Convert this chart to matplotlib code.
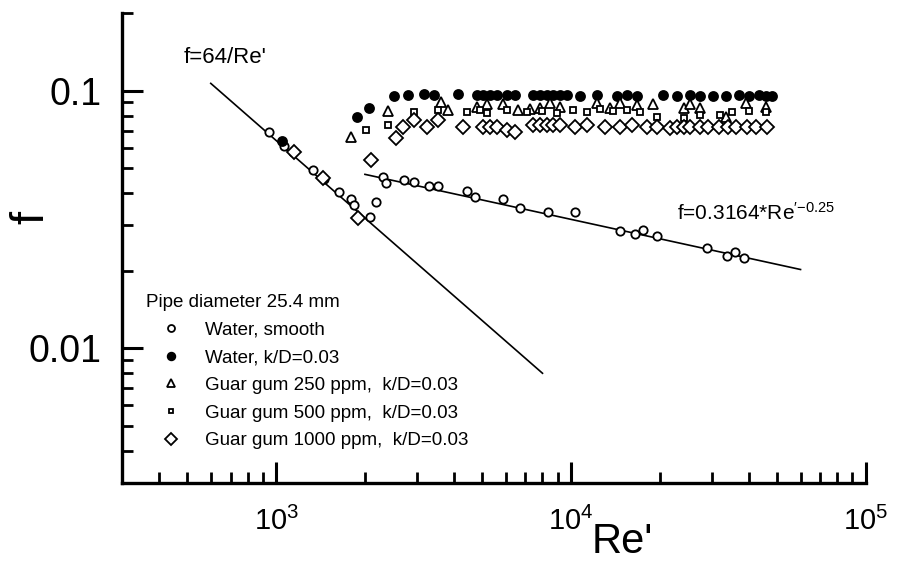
import matplotlib
matplotlib.use("Agg")
import matplotlib.pyplot as plt
from matplotlib.lines import Line2D
from matplotlib.ticker import LogLocator, NullFormatter

plt.rcParams["font.family"] = "Liberation Sans"
plt.rcParams["mathtext.default"] = "regular"

# ---- data ----
# Water, smooth pipe (laminar + Blasius region)
re_smooth = [947, 1064, 1141, 1334, 1453, 1632, 1792, 1834, 2078, 2178,
             2299, 2353, 2706, 2924, 3288, 3525, 4453, 4740, 5890, 6725,
             8360, 10315, 14640, 16450, 17500, 19500, 29000, 33900, 36100, 38700]
f_smooth = [0.0688, 0.0607, 0.0580, 0.0494, 0.0452, 0.0403, 0.0378, 0.0361, 0.0322, 0.0368,
            0.0464, 0.0436, 0.0448, 0.0440, 0.0428, 0.0428, 0.0406, 0.0388, 0.0378, 0.0349,
            0.0337, 0.0337, 0.0284, 0.0277, 0.0287, 0.0272, 0.0246, 0.0229, 0.0236, 0.0225]

# Water, k/D = 0.03
re_rough = [1048, 1877, 2062, 2504, 2792, 3162, 3419, 4120, 4813, 5044,
            5325, 5623, 6078, 6469, 7440, 7858, 8297, 8694, 9180, 9694,
            10725, 12240, 14300, 15460, 16710, 20460, 22810, 25230, 27280, 30180,
            33650, 37240, 40250, 43500, 45940, 48130]
f_rough = [0.0640, 0.0793, 0.0859, 0.0956, 0.0965, 0.0970, 0.0965, 0.0970, 0.0965, 0.0960,
           0.0965, 0.0965, 0.0960, 0.0965, 0.0960, 0.0965, 0.0960, 0.0960, 0.0965, 0.0960,
           0.0956, 0.0960, 0.0956, 0.0960, 0.0956, 0.0960, 0.0956, 0.0960, 0.0956, 0.0952,
           0.0956, 0.0965, 0.0956, 0.0960, 0.0956, 0.0956]

# Guar gum 250 ppm
re_g250 = [1790, 2390, 3610, 3811, 4813, 5202, 5891, 6622, 7270, 7858,
           8492, 9180, 12240, 13545, 14640, 16710, 18920, 24090, 25230, 27280,
           33650, 39310, 45940]
f_g250 = [0.0660, 0.0830, 0.0907, 0.0844, 0.0867, 0.0891, 0.0891, 0.0844, 0.0851, 0.0859,
          0.0899, 0.0867, 0.0899, 0.0859, 0.0899, 0.0882, 0.0891, 0.0859, 0.0891, 0.0859,
          0.0793, 0.0899, 0.0867]

# Guar gum 500 ppm
re_g500 = [2014, 2390, 2925, 3526, 4453, 4927, 5202, 6078, 7102, 7980,
           8968, 10160, 11330, 12530, 13870, 15460, 17110, 19520, 24090, 27280,
           31870, 35260, 40250, 45940]
f_g500 = [0.0706, 0.0738, 0.0829, 0.0844, 0.0829, 0.0844, 0.0821, 0.0844, 0.0829, 0.0836,
          0.0821, 0.0844, 0.0829, 0.0851, 0.0836, 0.0844, 0.0829, 0.0793, 0.0786, 0.0807,
          0.0807, 0.0829, 0.0836, 0.0829]

# Guar gum 1000 ppm
re_g1000 = [1150, 1443, 1892, 2094, 2542, 2700, 2925, 3259, 3526, 4313,
            5044, 5325, 5623, 6078, 6469, 7440, 7858, 8297, 8694, 9180,
            10300, 11330, 12990, 14640, 16100, 18100, 19520, 21610, 22810, 24090,
            25230, 27280, 29080, 31700, 34000, 36300, 39500, 42500, 46000]
f_g1000 = [0.0580, 0.0456, 0.0319, 0.0536, 0.0652, 0.0725, 0.0772, 0.0725, 0.0772, 0.0725,
           0.0725, 0.0725, 0.0725, 0.0706, 0.0688, 0.0738, 0.0738, 0.0738, 0.0738, 0.0738,
           0.0725, 0.0738, 0.0725, 0.0725, 0.0738, 0.0725, 0.0725, 0.0715, 0.0725, 0.0725,
           0.0725, 0.0725, 0.0725, 0.0725, 0.0725, 0.0725, 0.0725, 0.0725, 0.0725]

# reference correlations (line end points in Re')
re_laminar = [600, 8000]
re_blasius = [2000, 60000]
f_laminar = [64.0 / r for r in re_laminar]
f_blasius = [0.3164 * r ** -0.25 for r in re_blasius]

# ---- figure ----
fig = plt.figure(figsize=(8.97, 5.66), dpi=100)
ax = fig.add_axes([0.1360, 0.1466, 0.8294, 0.8304])

ax.plot(re_laminar, f_laminar, color="black", lw=1.2)
ax.plot(re_blasius, f_blasius, color="black", lw=1.2)

mk = dict(linestyle="none", markeredgecolor="black", markeredgewidth=1.3)
ax.plot(re_smooth, f_smooth, marker="o", ms=6, markerfacecolor="white", **mk)
ax.plot(re_rough, f_rough, marker="o", ms=6.5, markerfacecolor="black", **mk)
ax.plot(re_g250, f_g250, marker="^", ms=7.5, markerfacecolor="white", **mk)
ax.plot(re_g500, f_g500, marker="s", ms=4, markerfacecolor="white", **mk)
ax.plot(re_g1000, f_g1000, marker="D", ms=7, markerfacecolor="white", **mk)

ax.set_xscale("log")
ax.set_yscale("log")
ax.set_xlim(300, 1e5)
ax.set_ylim(0.003, 0.2)

for side in ("top", "right"):
    ax.spines[side].set_visible(False)
for side in ("left", "bottom"):
    ax.spines[side].set_linewidth(2.4)

ax.xaxis.set_minor_locator(LogLocator(base=10, subs=range(2, 10), numticks=20))
ax.yaxis.set_minor_locator(LogLocator(base=10, subs=range(2, 10), numticks=20))
ax.xaxis.set_minor_formatter(NullFormatter())
ax.yaxis.set_minor_formatter(NullFormatter())
ax.set_yticks([0.01, 0.1])
ax.set_yticklabels(["0.01", "0.1"])

ax.tick_params(which="major", direction="in", length=15, width=2.2, pad=14)
ax.tick_params(which="minor", direction="in", length=8, width=2.0)
ax.tick_params(axis="x", which="major", labelsize=21, pad=17)
ax.tick_params(axis="y", which="major", labelsize=27, pad=15)

ax.set_xlabel("Re'", fontsize=30)
ax.xaxis.set_label_coords(0.672, -0.126)
ax.xaxis.label.set_va("center")
ax.set_ylabel("f", fontsize=34)
ax.yaxis.set_label_coords(-0.122, 0.566)
ax.yaxis.label.set_va("center")

ax.text(485, 0.134, "f=64/Re'", fontsize=16, ha="left", va="center")
ax.text(22800, 0.0336, r"f=0.3164*Re$^{\prime\mathdefault{-0.25}}$",
        fontsize=15, ha="left", va="center")

handles = [
    Line2D([], [], marker="o", ms=5, mfc="white", **mk),
    Line2D([], [], marker="o", ms=5.5, mfc="black", **mk),
    Line2D([], [], marker="^", ms=6, mfc="white", **mk),
    Line2D([], [], marker="s", ms=3.5, mfc="white", **mk),
    Line2D([], [], marker="D", ms=6, mfc="white", **mk),
]
labels = ["Water, smooth", "Water, k/D=0.03", "Guar gum 250 ppm,  k/D=0.03",
          "Guar gum 500 ppm,  k/D=0.03", "Guar gum 1000 ppm,  k/D=0.03"]
leg = ax.legend(handles, labels, title="Pipe diameter 25.4 mm",
                loc="upper left", bbox_to_anchor=(146 / 897, 1 - 294 / 566),
                bbox_transform=fig.transFigure, frameon=False,
                fontsize=13.5, title_fontsize=13.5, alignment="left",
                handlelength=2.67, handletextpad=0.48, labelspacing=0.56,
                borderpad=0, borderaxespad=0, numpoints=1)

fig.savefig("out.png", dpi=100, facecolor="white")
